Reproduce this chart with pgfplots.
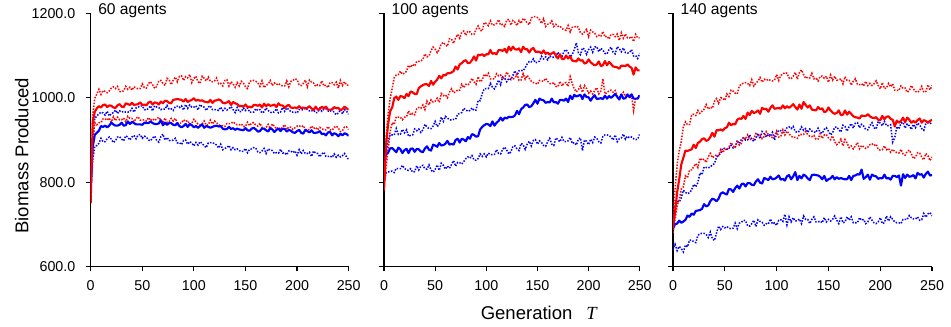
\documentclass[border=0pt]{standalone}
\usepackage{fontspec}
\setmainfont{Liberation Sans}
\newfontfamily\seriffont{Liberation Serif}
\usepackage{pgfplots}
\pgfplotsset{compat=1.18}
\definecolor{cred}{RGB}{255,0,0}
\definecolor{cblue}{RGB}{0,0,255}
\pgfplotsset{
 panel/.style={
  scale only axis, height=190pt,
  xmin=0, xmax=250, ymin=600, ymax=1200,
  axis x line*=bottom, axis y line*=left,
  axis line style={line width=0.9pt, -},
  xtick={0,50,100,150,200,250}, ytick={600,800,1000,1200},
  xticklabels={0,50,100,150,200,250},
  tick align=outside, major tick length=3.5pt,
  tick style={black, line width=0.9pt},
  tick label style={font=\fontsize{10.7}{12}\selectfont},
  xticklabel style={yshift=-3.2pt},
  yticklabel style={xshift=-4.5pt},
  title style={at={(rel axis cs:0,1)}, anchor=north west, xshift=5.5pt, yshift=1.5pt, font=\fontsize{11.7}{13}\selectfont, inner sep=0pt},
 },
 rs/.style={cred, line width=1.6pt, line join=round},
 bs/.style={cblue, line width=1.6pt, line join=round},
 rd/.style={cred, line width=1.15pt, dash pattern=on 1.1pt off 1.1pt},
 bd/.style={cblue, line width=1.15pt, dash pattern=on 1.1pt off 1.1pt},
}
\begin{document}
\begin{tikzpicture}
\path[use as bounding box] (0,0) rectangle (713.25pt,244.5pt);
% ---------------- Panel 1 ----------------
\begin{axis}[panel, at={(68pt,44.5pt)}, anchor=south west, width=193.5pt,
  yticklabels={600.0,800.0,1000.0,1200.0},
  title={60 agents},
  ylabel={Biomass Produced},
  ylabel style={at={(rel axis cs:-0.267,0.438)}, anchor=center, font=\fontsize{13.9}{16}\selectfont}]
\addplot[bd] coordinates {(0,770)(2,853)(4,885)(6,887)(8,892)(10,904)(12,896)(14,896)(16,903)(18,907)(20,902)(22,894)(24,898)(26,907)(28,908)(30,902)(32,898)(34,910)(36,907)(38,900)(40,907)(42,911)(44,903)(46,912)(48,913)(50,904)(52,909)(54,907)(56,900)(58,898)(60,905)(62,909)(64,899)(66,895)(68,908)(70,914)(72,900)(74,906)(76,899)(78,898)(80,900)(82,904)(84,893)(86,894)(88,889)(90,899)(92,900)(94,890)(96,896)(98,893)(100,886)(102,894)(104,888)(106,896)(108,892)(110,886)(112,882)(114,893)(116,894)(118,893)(120,892)(122,888)(124,881)(126,890)(128,877)(130,880)(132,882)(134,887)(136,877)(138,882)(140,877)(142,879)(144,875)(146,873)(148,873)(150,880)(152,870)(154,878)(156,879)(158,882)(160,881)(162,872)(164,870)(166,874)(168,880)(170,868)(172,879)(174,876)(176,875)(178,868)(180,870)(182,869)(184,878)(186,869)(188,870)(190,865)(192,874)(194,874)(196,870)(198,874)(200,864)(202,877)(204,867)(206,875)(208,868)(210,868)(212,871)(214,861)(216,874)(218,869)(220,868)(222,860)(224,867)(226,871)(228,861)(230,861)(232,862)(234,859)(236,867)(238,859)(240,864)(242,860)(244,863)(246,868)(248,860)(250,854)};
\addplot[bd] coordinates {(0,780)(2,894)(4,951)(6,957)(8,962)(10,966)(12,964)(14,959)(16,968)(18,957)(20,962)(22,965)(24,971)(26,963)(28,969)(30,966)(32,968)(34,966)(36,966)(38,967)(40,975)(42,966)(44,976)(46,978)(48,981)(50,981)(52,972)(54,971)(56,975)(58,981)(60,969)(62,981)(64,978)(66,977)(68,972)(70,974)(72,973)(74,982)(76,973)(78,974)(80,970)(82,979)(84,980)(86,977)(88,981)(90,971)(92,984)(94,975)(96,983)(98,978)(100,978)(102,981)(104,971)(106,984)(108,979)(110,978)(112,970)(114,978)(116,981)(118,972)(120,972)(122,972)(124,970)(126,978)(128,970)(130,975)(132,971)(134,974)(136,979)(138,972)(140,965)(142,977)(144,967)(146,967)(148,976)(150,970)(152,976)(154,966)(156,966)(158,966)(160,974)(162,970)(164,972)(166,964)(168,967)(170,976)(172,970)(174,966)(176,964)(178,967)(180,974)(182,964)(184,966)(186,977)(188,968)(190,976)(192,972)(194,967)(196,966)(198,966)(200,964)(202,972)(204,972)(206,971)(208,976)(210,972)(212,969)(214,969)(216,971)(218,965)(220,965)(222,975)(224,968)(226,973)(228,974)(230,969)(232,967)(234,974)(236,964)(238,960)(240,964)(242,972)(244,962)(246,972)(248,968)(250,961)};
\addplot[rd] coordinates {(0,760)(2,897)(4,941)(6,936)(8,941)(10,941)(12,950)(14,950)(16,947)(18,952)(20,942)(22,955)(24,946)(26,954)(28,948)(30,948)(32,952)(34,943)(36,956)(38,951)(40,951)(42,943)(44,951)(46,955)(48,947)(50,947)(52,948)(54,945)(56,953)(58,946)(60,950)(62,946)(64,950)(66,954)(68,947)(70,941)(72,952)(74,942)(76,943)(78,951)(80,945)(82,951)(84,941)(86,940)(88,940)(90,948)(92,944)(94,946)(96,937)(98,940)(100,949)(102,943)(104,938)(106,936)(108,938)(110,945)(112,935)(114,936)(116,947)(118,938)(120,945)(122,941)(124,936)(126,934)(128,934)(130,932)(132,939)(134,939)(136,939)(138,943)(140,939)(142,936)(144,936)(146,938)(148,932)(150,932)(152,942)(154,934)(156,940)(158,941)(160,935)(162,933)(164,940)(166,930)(168,926)(170,930)(172,937)(174,927)(176,938)(178,933)(180,926)(182,930)(184,925)(186,931)(188,936)(190,925)(192,931)(194,930)(196,925)(198,929)(200,933)(202,934)(204,931)(206,934)(208,925)(210,924)(212,925)(214,933)(216,927)(218,930)(220,924)(222,930)(224,927)(226,924)(228,924)(230,932)(232,924)(234,923)(236,930)(238,933)(240,928)(242,920)(244,922)(246,931)(248,931)(250,925)};
\addplot[rd] coordinates {(0,770)(2,960)(4,999)(6,1009)(8,1020)(10,1008)(12,1017)(14,1015)(16,1012)(18,1016)(20,1023)(22,1026)(24,1022)(26,1027)(28,1015)(30,1014)(32,1017)(34,1027)(36,1020)(38,1025)(40,1018)(42,1026)(44,1023)(46,1021)(48,1022)(50,1033)(52,1024)(54,1023)(56,1034)(58,1038)(60,1031)(62,1022)(64,1027)(66,1040)(68,1041)(70,1034)(72,1029)(74,1046)(76,1043)(78,1031)(80,1042)(82,1049)(84,1038)(86,1051)(88,1052)(90,1041)(92,1050)(94,1047)(96,1055)(98,1036)(100,1046)(102,1051)(104,1038)(106,1034)(108,1051)(110,1046)(112,1040)(114,1049)(116,1039)(118,1038)(120,1040)(122,1047)(124,1033)(126,1034)(128,1028)(130,1041)(132,1043)(134,1028)(136,1038)(138,1033)(140,1025)(142,1036)(144,1028)(146,1039)(148,1035)(150,1026)(152,1022)(154,1038)(156,1041)(158,1041)(160,1039)(162,1035)(164,1027)(166,1040)(168,1024)(170,1030)(172,1032)(174,1041)(176,1029)(178,1035)(180,1031)(182,1034)(184,1030)(186,1028)(188,1028)(190,1040)(192,1026)(194,1039)(196,1041)(198,1045)(200,1043)(202,1031)(204,1029)(206,1034)(208,1042)(210,1026)(212,1042)(214,1037)(216,1035)(218,1027)(220,1031)(222,1029)(224,1040)(226,1028)(228,1030)(230,1024)(232,1036)(234,1036)(236,1031)(238,1037)(240,1023)(242,1041)(244,1029)(246,1038)(248,1030)(250,1030)};
\addplot[bs] coordinates {(0,790)(2,884)(4,912)(6,917)(8,922)(10,933)(12,931)(14,934)(16,930)(18,934)(20,941)(22,937)(24,934)(26,934)(28,936)(30,941)(32,934)(34,935)(36,944)(38,938)(40,943)(42,940)(44,937)(46,937)(48,937)(50,936)(52,941)(54,940)(56,940)(58,944)(60,940)(62,938)(64,938)(66,939)(68,947)(70,935)(72,941)(74,936)(76,940)(78,940)(80,936)(82,935)(84,940)(86,933)(88,930)(90,933)(92,938)(94,931)(96,938)(98,935)(100,930)(102,933)(104,929)(106,933)(108,937)(110,929)(112,933)(114,931)(116,929)(118,931)(120,933)(122,934)(124,932)(126,933)(128,927)(130,925)(132,926)(134,931)(136,926)(138,928)(140,924)(142,927)(144,925)(146,924)(148,923)(150,928)(152,923)(154,922)(156,927)(158,929)(160,925)(162,920)(164,921)(166,927)(168,927)(170,923)(172,920)(174,928)(176,925)(178,919)(180,924)(182,927)(184,921)(186,927)(188,926)(190,920)(192,924)(194,922)(196,918)(198,917)(200,921)(202,924)(204,917)(206,915)(208,924)(210,921)(212,918)(214,923)(216,917)(218,917)(220,918)(222,921)(224,914)(226,915)(228,911)(230,918)(232,919)(234,911)(236,916)(238,914)(240,909)(242,915)(244,911)(246,916)(248,914)(250,910)};
\addplot[rs] coordinates {(0,750)(2,943)(4,967)(6,975)(8,980)(10,977)(12,983)(14,984)(16,978)(18,982)(20,981)(22,977)(24,976)(26,982)(28,985)(30,979)(32,978)(34,987)(36,985)(38,983)(40,988)(42,983)(44,984)(46,985)(48,989)(50,983)(52,984)(54,982)(56,989)(58,991)(60,984)(62,989)(64,988)(66,984)(68,991)(70,987)(72,993)(74,992)(76,988)(78,987)(80,995)(82,996)(84,997)(86,996)(88,995)(90,991)(92,997)(94,990)(96,993)(98,995)(100,999)(102,993)(104,995)(106,993)(108,994)(110,991)(112,990)(114,989)(116,995)(118,988)(120,993)(122,994)(124,996)(126,994)(128,988)(130,987)(132,989)(134,992)(136,983)(138,990)(140,987)(142,985)(144,980)(146,981)(148,979)(150,984)(152,978)(154,979)(156,977)(158,983)(160,983)(162,981)(164,984)(166,977)(168,986)(170,980)(172,985)(174,981)(176,982)(178,984)(180,978)(182,987)(184,982)(186,982)(188,976)(190,981)(192,983)(194,977)(196,976)(198,977)(200,975)(202,980)(204,975)(206,977)(208,975)(210,976)(212,980)(214,975)(216,971)(218,979)(220,972)(222,973)(224,979)(226,975)(228,979)(230,972)(232,972)(234,972)(236,978)(238,975)(240,976)(242,971)(244,973)(246,979)(248,975)(250,972)};
\end{axis}
% ---------------- Panel 2 ----------------
\begin{axis}[panel, at={(288pt,44.5pt)}, anchor=south west, width=191.8pt,
  yticklabels={},
  title={100 agents},
  xlabel={Generation\hspace{0.75em}{\seriffont\itshape T}},
  xlabel style={at={(rel axis cs:0.605,-0.183)}, anchor=center, font=\fontsize{13.9}{16}\selectfont}]
\addplot[bd] coordinates {(0,800)(2,822)(4,824)(6,826)(8,826)(10,823)(12,833)(14,832)(16,832)(18,840)(20,833)(22,829)(24,828)(26,832)(28,824)(30,825)(32,839)(34,829)(36,838)(38,840)(40,832)(42,831)(44,841)(46,829)(48,824)(50,830)(52,841)(54,828)(56,845)(58,840)(60,831)(62,838)(64,833)(66,842)(68,851)(70,838)(72,847)(74,846)(76,843)(78,849)(80,856)(82,860)(84,857)(86,863)(88,853)(90,852)(92,856)(94,867)(96,861)(98,867)(100,860)(102,869)(104,866)(106,865)(108,866)(110,877)(112,868)(114,867)(116,878)(118,883)(120,876)(122,867)(124,872)(126,885)(128,886)(130,879)(132,875)(134,892)(136,889)(138,878)(140,890)(142,897)(144,886)(146,899)(148,901)(150,890)(152,898)(154,894)(156,887)(158,885)(160,896)(162,904)(164,890)(166,887)(168,905)(170,901)(172,896)(174,906)(176,896)(178,896)(180,898)(182,906)(184,892)(186,894)(188,888)(190,902)(192,905)(194,875)(196,900)(198,897)(200,889)(202,902)(204,894)(206,907)(208,904)(210,896)(212,893)(214,909)(216,912)(218,912)(220,911)(222,907)(224,900)(226,912)(228,896)(230,903)(232,905)(234,914)(236,902)(238,909)(240,905)(242,907)(244,903)(246,901)(248,902)(250,914)};
\addplot[bd] coordinates {(0,820)(2,868)(4,897)(6,913)(8,912)(10,912)(12,927)(14,913)(16,914)(18,925)(20,917)(22,924)(24,909)(26,911)(28,912)(30,926)(32,922)(34,926)(36,918)(38,924)(40,937)(42,931)(44,927)(46,927)(48,933)(50,944)(52,932)(54,936)(56,954)(58,944)(60,956)(62,952)(64,948)(66,947)(68,949)(70,949)(72,961)(74,963)(76,965)(78,975)(80,971)(82,968)(84,970)(86,976)(88,970)(90,971)(92,994)(94,993)(96,1010)(98,1021)(100,1022)(102,1022)(104,1034)(106,1025)(108,1021)(110,1030)(112,1042)(114,1031)(116,1049)(118,1046)(120,1038)(122,1046)(124,1043)(126,1053)(128,1064)(130,1053)(132,1064)(134,1065)(136,1064)(138,1071)(140,1080)(142,1086)(144,1085)(146,1092)(148,1083)(150,1084)(152,1087)(154,1098)(156,1092)(158,1097)(160,1090)(162,1099)(164,1096)(166,1096)(168,1097)(170,1108)(172,1099)(174,1098)(176,1110)(178,1114)(180,1107)(182,1097)(184,1102)(186,1114)(188,1130)(190,1107)(192,1102)(194,1118)(196,1115)(198,1103)(200,1114)(202,1120)(204,1108)(206,1120)(208,1121)(210,1109)(212,1117)(214,1113)(216,1105)(218,1104)(220,1114)(222,1120)(224,1108)(226,1104)(228,1121)(230,1116)(232,1109)(234,1118)(236,1107)(238,1106)(240,1107)(242,1114)(244,1099)(246,1100)(248,1093)(250,1106)};
\addplot[rd] coordinates {(0,790)(2,836)(4,874)(6,920)(8,941)(10,937)(12,955)(14,954)(16,954)(18,948)(20,954)(22,955)(24,969)(26,959)(28,963)(30,960)(32,974)(34,977)(36,975)(38,983)(40,972)(42,992)(44,983)(46,995)(48,990)(50,992)(52,999)(54,989)(56,1010)(58,1005)(60,1007)(62,1000)(64,1013)(66,1021)(68,1012)(70,1014)(72,1019)(74,1018)(76,1032)(78,1024)(80,1032)(82,1030)(84,1036)(86,1046)(88,1038)(90,1032)(92,1050)(94,1038)(96,1042)(98,1056)(100,1050)(102,1058)(104,1045)(106,1045)(108,1045)(110,1057)(112,1052)(114,1054)(116,1044)(118,1048)(120,1061)(122,1053)(124,1047)(126,1044)(128,1047)(130,1056)(132,1041)(134,1042)(136,1057)(138,1044)(140,1053)(142,1046)(144,1039)(146,1036)(148,1035)(150,1032)(152,1041)(154,1040)(156,1039)(158,1046)(160,1039)(162,1034)(164,1033)(166,1036)(168,1027)(170,1026)(172,1039)(174,1028)(176,1035)(178,1036)(180,1027)(182,1050)(184,1034)(186,1021)(188,1014)(190,1019)(192,1028)(194,1013)(196,1029)(198,1022)(200,1011)(202,1016)(204,1009)(206,1017)(208,1024)(210,1009)(212,1016)(214,1045)(216,1009)(218,1012)(220,1017)(222,1018)(224,1013)(226,1017)(228,1004)(230,1002)(232,1003)(234,1013)(236,1004)(238,1007)(240,999)(242,1006)(244,970)(246,999)(248,999)(250,1008)};
\addplot[rd] coordinates {(0,790)(2,904)(4,962)(6,998)(8,1022)(10,1048)(12,1054)(14,1055)(16,1063)(18,1056)(20,1058)(22,1063)(24,1077)(26,1072)(28,1079)(30,1075)(32,1086)(34,1086)(36,1087)(38,1091)(40,1104)(42,1097)(44,1099)(46,1112)(48,1120)(50,1115)(52,1107)(54,1114)(56,1128)(58,1131)(60,1125)(62,1122)(64,1140)(66,1139)(68,1129)(70,1142)(72,1150)(74,1141)(76,1155)(78,1158)(80,1148)(82,1158)(84,1156)(86,1150)(88,1150)(90,1162)(92,1170)(94,1160)(96,1158)(98,1178)(100,1176)(102,1171)(104,1182)(106,1172)(108,1173)(110,1176)(112,1185)(114,1172)(116,1174)(118,1169)(120,1184)(122,1186)(124,1172)(126,1183)(128,1179)(130,1171)(132,1183)(134,1176)(136,1188)(138,1184)(140,1177)(142,1173)(144,1189)(146,1192)(148,1192)(150,1190)(152,1185)(154,1176)(156,1187)(158,1169)(160,1174)(162,1175)(164,1182)(166,1169)(168,1174)(170,1169)(172,1170)(174,1164)(176,1161)(178,1160)(180,1171)(182,1156)(184,1167)(186,1167)(188,1170)(190,1167)(192,1154)(194,1151)(196,1156)(198,1162)(200,1145)(202,1160)(204,1156)(206,1153)(208,1145)(210,1148)(212,1145)(214,1157)(216,1144)(218,1146)(220,1139)(222,1150)(224,1150)(226,1145)(228,1151)(230,1136)(232,1154)(234,1141)(236,1151)(238,1142)(240,1142)(242,1145)(244,1133)(246,1150)(248,1142)(250,1142)};
\addplot[bs] coordinates {(0,850)(2,866)(4,870)(6,880)(8,881)(10,876)(12,871)(14,882)(16,878)(18,869)(20,876)(22,879)(24,869)(26,879)(28,880)(30,872)(32,879)(34,878)(36,873)(38,871)(40,880)(42,885)(44,877)(46,875)(48,889)(50,887)(52,884)(54,893)(56,887)(58,888)(60,891)(62,898)(64,889)(66,891)(68,889)(70,900)(72,903)(74,894)(76,903)(78,901)(80,897)(82,907)(84,903)(86,914)(88,912)(90,908)(92,909)(94,925)(96,931)(98,935)(100,938)(102,937)(104,933)(106,944)(108,934)(110,941)(112,945)(114,953)(116,946)(118,953)(120,951)(122,955)(124,954)(126,955)(128,958)(130,969)(132,961)(134,973)(136,977)(138,983)(140,984)(142,978)(144,980)(146,987)(148,995)(150,986)(152,998)(154,995)(156,994)(158,988)(160,990)(162,989)(164,998)(166,989)(168,990)(170,986)(172,995)(174,995)(176,993)(178,998)(180,990)(182,1005)(184,997)(186,1007)(188,1003)(190,1005)(192,1007)(194,997)(196,1008)(198,1002)(200,1001)(202,993)(204,1001)(206,1006)(208,997)(210,998)(212,999)(214,997)(216,1005)(218,998)(220,1004)(222,1000)(224,1004)(226,1009)(228,1002)(230,996)(232,1008)(234,998)(236,999)(238,1008)(240,1002)(242,1008)(244,998)(246,998)(248,998)(250,1006)};
\addplot[rs] coordinates {(0,780)(2,887)(4,937)(6,968)(8,977)(10,999)(12,1003)(14,995)(16,1004)(18,1003)(20,999)(22,1009)(24,1004)(26,1015)(28,1013)(30,1009)(32,1009)(34,1023)(36,1027)(38,1030)(40,1032)(42,1032)(44,1028)(46,1040)(48,1031)(50,1038)(52,1043)(54,1052)(56,1046)(58,1054)(60,1053)(62,1058)(64,1058)(66,1060)(68,1063)(70,1074)(72,1067)(74,1079)(76,1082)(78,1087)(80,1089)(82,1082)(84,1083)(86,1089)(88,1098)(90,1088)(92,1102)(94,1101)(96,1103)(98,1099)(100,1103)(102,1103)(104,1113)(106,1104)(108,1106)(110,1103)(112,1113)(114,1113)(116,1111)(118,1116)(120,1107)(122,1121)(124,1112)(126,1121)(128,1115)(130,1114)(132,1117)(134,1108)(136,1121)(138,1115)(140,1115)(142,1107)(144,1115)(146,1118)(148,1109)(150,1109)(152,1109)(154,1105)(156,1112)(158,1104)(160,1107)(162,1102)(164,1105)(166,1108)(168,1100)(170,1093)(172,1103)(174,1092)(176,1092)(178,1100)(180,1093)(182,1098)(184,1088)(186,1087)(188,1086)(190,1093)(192,1088)(194,1089)(196,1081)(198,1083)(200,1091)(202,1084)(204,1080)(206,1077)(208,1079)(210,1086)(212,1075)(214,1077)(216,1087)(218,1077)(220,1085)(222,1080)(224,1074)(226,1073)(228,1072)(230,1069)(232,1076)(234,1076)(236,1075)(238,1079)(240,1074)(242,1071)(244,1055)(246,1072)(248,1065)(250,1065)};
\end{axis}
% ---------------- Panel 3 ----------------
\begin{axis}[panel, at={(504.75pt,44.5pt)}, anchor=south west, width=194.3pt,
  yticklabels={},
  title={140 agents}]
\addplot[bd] coordinates {(0,640)(2,653)(4,638)(6,648)(8,643)(10,635)(12,651)(14,647)(16,663)(18,663)(20,659)(22,657)(24,674)(26,678)(28,679)(30,679)(32,676)(34,669)(36,682)(38,666)(40,662)(42,680)(44,696)(46,688)(48,695)(50,692)(52,695)(54,691)(56,690)(58,691)(60,703)(62,690)(64,703)(66,705)(68,710)(70,709)(72,697)(74,696)(76,702)(78,710)(80,695)(82,711)(84,707)(86,705)(88,698)(90,702)(92,701)(94,713)(96,701)(98,704)(100,698)(102,710)(104,711)(106,707)(108,724)(110,699)(112,718)(114,706)(116,716)(118,708)(120,709)(122,713)(124,702)(126,720)(128,712)(130,712)(132,702)(134,712)(136,718)(138,706)(140,706)(142,708)(144,704)(146,716)(148,706)(150,712)(152,708)(154,712)(156,720)(158,710)(160,702)(162,718)(164,704)(166,706)(168,718)(170,710)(172,718)(174,704)(176,704)(178,704)(180,716)(182,710)(184,712)(186,702)(188,706)(190,718)(192,710)(194,704)(196,702)(198,706)(200,716)(202,702)(204,704)(206,720)(208,708)(210,718)(212,712)(214,706)(216,704)(218,704)(220,702)(222,712)(224,712)(226,712)(228,721)(230,716)(232,713)(234,713)(236,718)(238,710)(240,711)(242,726)(244,717)(246,725)(248,728)(250,720)};
\addplot[bd] coordinates {(0,690)(2,740)(4,757)(6,753)(8,763)(10,781)(12,776)(14,773)(16,775)(18,782)(20,795)(22,789)(24,799)(26,822)(28,818)(30,836)(32,835)(34,834)(36,836)(38,841)(40,844)(42,859)(44,864)(46,868)(48,881)(50,880)(52,878)(54,880)(56,887)(58,881)(60,883)(62,899)(64,891)(66,901)(68,905)(70,900)(72,900)(74,912)(76,902)(78,897)(80,904)(82,916)(84,903)(86,920)(88,915)(90,907)(92,914)(94,909)(96,918)(98,900)(100,915)(102,923)(104,922)(106,918)(108,922)(110,929)(112,931)(114,927)(116,932)(118,920)(120,918)(122,921)(124,931)(126,923)(128,927)(130,918)(132,926)(134,921)(136,919)(138,918)(140,928)(142,918)(144,916)(146,925)(148,929)(150,921)(152,912)(154,917)(156,930)(158,931)(160,924)(162,919)(164,935)(166,932)(168,921)(170,932)(172,939)(174,928)(176,940)(178,941)(180,929)(182,937)(184,933)(186,925)(188,924)(190,934)(192,941)(194,929)(196,926)(198,944)(200,940)(202,934)(204,944)(206,934)(208,934)(210,936)(212,895)(214,905)(216,932)(218,926)(220,940)(222,942)(224,928)(226,938)(228,934)(230,925)(232,937)(234,929)(236,940)(238,936)(240,927)(242,923)(244,939)(246,941)(248,940)(250,938)};
\addplot[rd] coordinates {(0,680)(2,714)(4,744)(6,759)(8,784)(10,789)(12,815)(14,811)(16,829)(18,829)(20,837)(22,844)(24,835)(26,857)(28,852)(30,855)(32,847)(34,860)(36,868)(38,858)(40,861)(42,865)(44,863)(46,877)(48,870)(50,878)(52,877)(54,883)(56,894)(58,886)(60,881)(62,899)(64,888)(66,892)(68,907)(70,902)(72,912)(74,901)(76,902)(78,903)(80,915)(82,910)(84,912)(86,903)(88,908)(90,920)(92,913)(94,907)(96,906)(98,910)(100,921)(102,907)(104,908)(106,924)(108,912)(110,921)(112,915)(114,909)(116,906)(118,906)(120,904)(122,913)(124,913)(126,913)(128,920)(130,913)(132,909)(134,908)(136,911)(138,902)(140,902)(142,915)(144,904)(146,912)(148,913)(150,905)(152,901)(154,910)(156,896)(158,889)(160,893)(162,902)(164,886)(166,901)(168,893)(170,882)(172,886)(174,879)(176,886)(178,894)(180,879)(182,887)(184,884)(186,880)(188,883)(190,889)(192,891)(194,887)(196,890)(198,878)(200,876)(202,877)(204,886)(206,877)(208,880)(210,871)(212,878)(214,873)(216,870)(218,869)(220,878)(222,867)(224,864)(226,873)(228,876)(230,867)(232,856)(234,859)(236,870)(238,869)(240,860)(242,853)(244,868)(246,863)(248,851)(250,860)};
\addplot[rd] coordinates {(0,700)(2,786)(4,842)(6,874)(8,897)(10,932)(12,943)(14,936)(16,937)(18,960)(20,961)(22,958)(24,970)(26,963)(28,968)(30,973)(32,984)(34,973)(36,978)(38,975)(40,992)(42,998)(44,987)(46,1000)(48,999)(50,994)(52,1009)(54,1003)(56,1018)(58,1016)(60,1011)(62,1009)(64,1028)(66,1032)(68,1035)(70,1036)(72,1034)(74,1029)(76,1043)(78,1028)(80,1035)(82,1039)(84,1048)(86,1037)(88,1044)(90,1041)(92,1044)(94,1041)(96,1040)(98,1042)(100,1055)(102,1041)(104,1053)(106,1056)(108,1060)(110,1058)(112,1047)(114,1045)(116,1051)(118,1060)(120,1044)(122,1060)(124,1066)(126,1055)(128,1046)(130,1049)(132,1047)(134,1058)(136,1045)(138,1047)(140,1040)(142,1051)(144,1051)(146,1046)(148,1051)(150,1037)(152,1054)(154,1042)(156,1051)(158,1042)(160,1042)(162,1045)(164,1033)(166,1050)(168,1041)(170,1041)(172,1030)(174,1039)(176,1045)(178,1032)(180,1031)(182,1033)(184,1028)(186,1039)(188,1029)(190,1034)(192,1029)(194,1033)(196,1040)(198,1029)(200,1021)(202,1036)(204,1022)(206,1023)(208,1034)(210,1026)(212,1033)(214,1018)(216,1018)(218,1017)(220,1028)(222,1022)(224,1023)(226,1013)(228,1017)(230,1029)(232,1021)(234,1015)(236,1013)(238,1017)(240,1027)(242,1013)(244,1015)(246,1031)(248,1019)(250,1029)};
\addplot[bs] coordinates {(0,690)(2,701)(4,702)(6,709)(8,704)(10,707)(12,711)(14,721)(16,718)(18,726)(20,723)(22,732)(24,733)(26,734)(28,737)(30,748)(32,743)(34,745)(36,755)(38,761)(40,759)(42,755)(44,761)(46,773)(48,776)(50,773)(52,771)(54,784)(56,783)(58,777)(60,786)(62,792)(64,785)(66,795)(68,797)(70,790)(72,798)(74,798)(76,794)(78,793)(80,802)(82,807)(84,799)(86,797)(88,810)(90,808)(92,805)(94,813)(96,807)(98,808)(100,811)(102,816)(104,806)(106,808)(108,804)(110,814)(112,817)(114,807)(116,814)(118,824)(120,805)(122,815)(124,809)(126,818)(128,815)(130,809)(132,805)(134,817)(136,818)(138,817)(140,816)(142,813)(144,807)(146,815)(148,803)(150,807)(152,809)(154,815)(156,807)(158,812)(160,808)(162,810)(164,808)(166,807)(168,807)(170,815)(172,805)(174,815)(176,816)(178,819)(180,818)(182,830)(184,808)(186,812)(188,818)(190,806)(192,818)(194,815)(196,814)(198,808)(200,810)(202,809)(204,818)(206,809)(208,810)(210,806)(212,815)(214,815)(216,812)(218,816)(220,792)(222,819)(224,810)(226,818)(228,813)(230,814)(232,817)(234,809)(236,822)(238,818)(240,819)(242,811)(244,820)(246,825)(248,816)(250,817)};
\addplot[rs] coordinates {(0,690)(2,730)(4,776)(6,807)(8,842)(10,858)(12,875)(14,874)(16,876)(18,878)(20,889)(22,881)(24,893)(26,896)(28,902)(30,904)(32,898)(34,900)(36,907)(38,917)(40,908)(42,923)(44,923)(46,925)(48,922)(50,928)(52,930)(54,941)(56,935)(58,938)(60,937)(62,948)(64,951)(66,950)(68,957)(70,950)(72,965)(74,959)(76,969)(78,964)(80,966)(82,970)(84,962)(86,976)(88,973)(90,974)(92,967)(94,976)(96,982)(98,974)(100,975)(102,976)(104,974)(106,982)(108,975)(110,980)(112,976)(114,980)(116,985)(118,978)(120,972)(122,984)(124,974)(126,990)(128,983)(130,977)(132,982)(134,972)(136,971)(138,970)(140,978)(142,973)(144,975)(146,966)(148,968)(150,977)(152,970)(154,965)(156,962)(158,964)(160,970)(162,959)(164,960)(166,970)(168,960)(170,967)(172,962)(174,956)(176,954)(178,953)(180,951)(182,958)(184,957)(186,957)(188,961)(190,956)(192,953)(194,952)(196,954)(198,948)(200,947)(202,957)(204,949)(206,955)(208,956)(210,950)(212,948)(214,932)(216,946)(218,941)(220,945)(222,953)(224,942)(226,953)(228,948)(230,941)(232,945)(234,941)(236,947)(238,951)(240,941)(242,947)(244,945)(246,941)(248,945)(250,948)};
\end{axis}
\end{tikzpicture}
\end{document}
